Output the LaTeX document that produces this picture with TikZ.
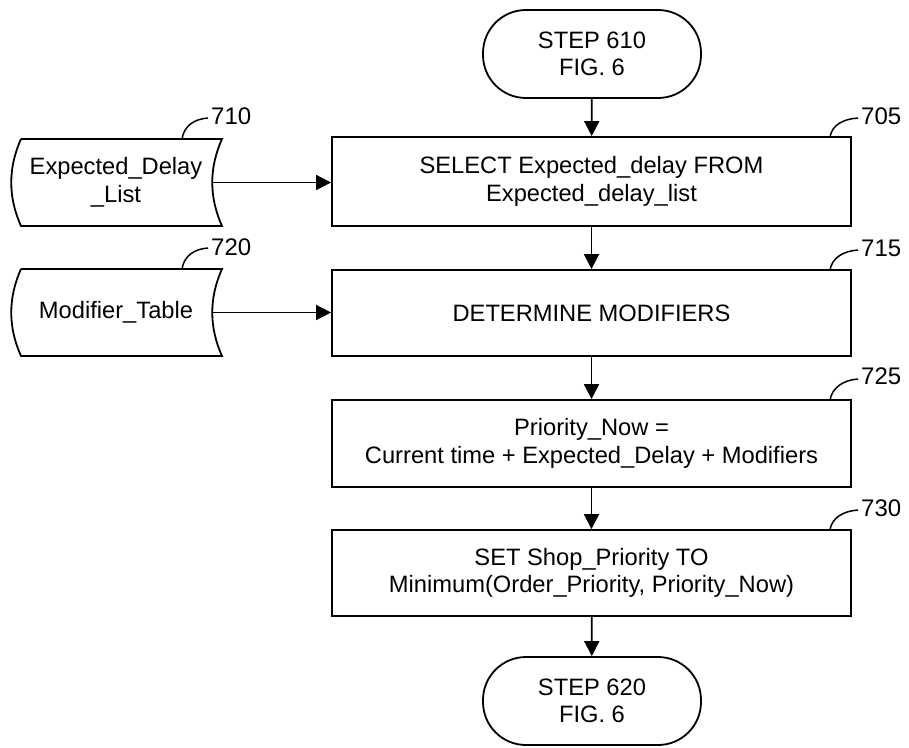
\documentclass[tikz,border=0pt]{standalone}
\usepackage{fontspec}
\setmainfont{Liberation Sans}
\usetikzlibrary{arrows.meta}
\begin{document}
\begin{tikzpicture}[x=1pt,y=-1pt,
  every node/.style={font=\fontsize{23.7}{27.5}\selectfont, align=center, inner sep=0pt},
  proc/.style={draw, line width=1.8pt, minimum width=519pt},
  term/.style={draw, line width=1.8pt, rounded corners=43pt, minimum width=218pt, minimum height=88pt},
  tape/.style={draw, line width=1.8pt},
  flow/.style={line width=1.8pt, -{Triangle[width=15pt,length=15pt]}},
  lead/.style={line width=1.5pt},
  ref/.style={font=\fontsize{24}{28}\selectfont, anchor=west}]
\useasboundingbox (0,0) rectangle (909,747);

\node[term] (start) at (592,54) {STEP 610\\FIG. 6};
\node[proc, minimum height=89pt] (b705) at (591.5,181.5) {SELECT Expected\_delay FROM\\Expected\_delay\_list};
\node[proc, minimum height=86pt] (b715) at (591.5,313) {DETERMINE MODIFIERS};
\node[proc, minimum height=87pt] (b725) at (591.5,443.5) {Priority\_Now =\\Current time + Expected\_Delay + Modifiers};
\node[proc, minimum height=86pt] (b730) at (591.5,573) {SET Shop\_Priority TO\\Minimum(Order\_Priority, Priority\_Now)};
\node[term] (end) at (592,701) {STEP 620\\FIG. 6};

% stored-data tapes
\draw[tape] (21,139) -- (222,139) .. controls (209,168) and (209,197) .. (222,226)
  -- (21,226) .. controls (8,197) and (8,168) .. (21,139);
\node (t710) at (116,182.5) {Expected\_Delay\\\_List};
\coordinate (t710r) at (212,182.5);
\draw[tape] (21,269) -- (222,269) .. controls (209,298) and (209,327) .. (222,356)
  -- (21,356) .. controls (8,327) and (8,298) .. (21,269);
\node (t720) at (116,312.5) {Modifier\_Table};
\coordinate (t720r) at (212,312.5);

% connectors
\draw[flow] (start) -- (b705);
\draw[flow] (b705) -- (b715);
\draw[flow] (b715) -- (b725);
\draw[flow] (b725) -- (b730);
\draw[flow] (b730) -- (end);
\draw[flow] (t710r) -- (b705.west |- t710r);
\draw[flow] (t720r) -- (b715.west |- t720r);

% reference labels
\coordinate (l710a) at (182,139); \coordinate (l710b) at (208,118);
\draw[lead] (l710a) .. controls (184,126) and (194,119) .. (l710b);
\node[ref] (r710) at (211,116) {710};
\coordinate (l720a) at (182,269); \coordinate (l720b) at (208,248);
\draw[lead] (l720a) .. controls (184,256) and (194,249) .. (l720b);
\node[ref] (r720) at (211,247) {720};
\coordinate (l705a) at (830,137); \coordinate (l705b) at (858,118);
\draw[lead] (l705a) .. controls (832,125) and (843,119) .. (l705b);
\node[ref] (r705) at (861,116) {705};
\coordinate (l715a) at (830,270); \coordinate (l715b) at (858,250);
\draw[lead] (l715a) .. controls (832,258) and (843,251) .. (l715b);
\node[ref] (r715) at (861,248) {715};
\coordinate (l725a) at (830,400); \coordinate (l725b) at (858,379);
\draw[lead] (l725a) .. controls (832,388) and (843,380) .. (l725b);
\node[ref] (r725) at (861,376) {725};
\coordinate (l730a) at (830,529.5); \coordinate (l730b) at (858,510);
\draw[lead] (l730a) .. controls (832,518) and (843,511) .. (l730b);
\node[ref] (r730) at (861,508) {730};
\end{tikzpicture}
\end{document}
